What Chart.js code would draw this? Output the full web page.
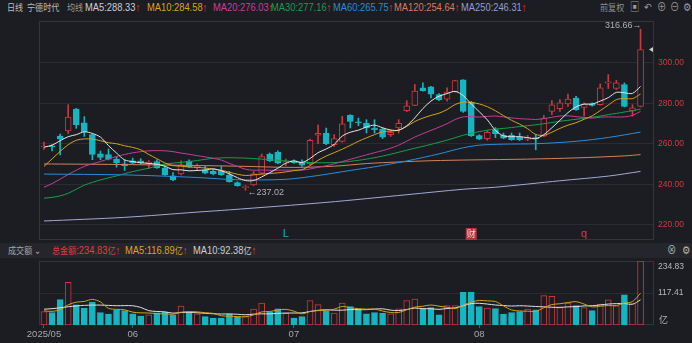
<!DOCTYPE html>
<html lang="zh">
<head>
<meta charset="UTF-8">
<title>宁德时代 日线</title>
<script src="https://cdn.jsdelivr.net/npm/chart.js"></script>
<style>
  html, body { margin: 0; padding: 0; background: #1c1d22; }
  #wrap { position: relative; width: 692px; height: 343px; overflow: hidden; background: #1c1d22;
          font-family: 'Liberation Sans', 'Noto Sans CJK SC', sans-serif; }
  .t { position: absolute; white-space: nowrap; font-size: 11px; line-height: 14px;
       transform: scaleX(0.85); transform-origin: 0 50%; }
  .cjk { font-family: 'Noto Sans CJK SC', sans-serif; font-size: 9.5px; }
  .up { color: #f0353b; font-weight: bold; }
  canvas { position: absolute; left: 0; }
  #volbar { position: absolute; left: 0; top: 243px; width: 692px; height: 15px; background: #25262b; }
</style>
</head>
<body>
<div id="wrap">
  <span class="t cjk" style="left:7px;top:0;color:#bdbdbd">日线</span>
  <span class="t cjk" style="left:27px;top:0;color:#bdbdbd">宁德时代</span>
  <span class="t cjk" style="left:67px;top:0;color:#9a9a9a">均线</span>
  <span class="t" style="left:85px;top:0;color:#c9d0da">MA5:288.33<span class="up">↑</span></span>
  <span class="t" style="left:147px;top:0;color:#d9a61c">MA10:284.58<span class="up">↑</span></span>
  <span class="t" style="left:213px;top:0;color:#c4409c">MA20:276.03<span class="up">↑</span></span>
  <span class="t" style="left:271px;top:0;color:#1b9c4b">MA30:277.16<span class="up">↑</span></span>
  <span class="t" style="left:333px;top:0;color:#2b8bd4">MA60:265.75<span class="up">↑</span></span>
  <span class="t" style="left:394px;top:0;color:#d67c5c">MA120:254.64<span class="up">↑</span></span>
  <span class="t" style="left:461px;top:0;color:#909cd6">MA250:246.31<span class="up">↑</span></span>
  <span class="t cjk" style="left:600px;top:0;color:#8e8e8e">前复权</span>
  <span class="t" style="left:630px;top:0;color:#9a9a9a">&#9635;</span>
  <span class="t" style="left:644px;top:0;color:#9a9a9a">&#8630;</span>
  <span class="t" style="left:657px;top:0;color:#9a9a9a">&#8853;</span>
  <span class="t" style="left:670px;top:0;color:#9a9a9a">&#8854;</span>
  <span class="t" style="left:683px;top:0;color:#9a9a9a">&#9881;</span>

  <div id="volbar"></div>
  <span class="t cjk" style="left:8px;top:243px;color:#a5a5a5">成交额 ⌄</span>
  <span class="t" style="left:52px;top:243px;color:#e03c40"><span class="cjk">总金额</span>:234.83<span class="cjk">亿</span><span class="up">↑</span></span>
  <span class="t" style="left:125px;top:243px;color:#d9a61c">MA5:116.89<span class="cjk">亿</span><span class="up">↑</span></span>
  <span class="t" style="left:193px;top:243px;color:#cfcfcf">MA10:92.38<span class="cjk">亿</span><span class="up">↑</span></span>
  <span class="t" style="left:667px;top:243px;color:#b5b5b5">&#8855;</span>
  <span class="t" style="left:682px;top:243px;color:#b5b5b5">&#9881;</span>

  <canvas id="priceChart" width="692" height="243" style="top:0;width:692px;height:243px"></canvas>
  <canvas id="volChart" width="692" height="85" style="top:258px;width:692px;height:85px"></canvas>
</div>
<script>
  // daily candles, 2025-05-16 .. 2025-08-29
  const opens = [258.4, 259.0, 263.8, 266.3, 277.2, 270.4, 264.5, 255.0, 254.7, 252.4,
    250.1, 251.6, 251.6, 250.3, 251.2, 248.1, 244.1, 245.1, 251.4, 248.1,
    247.1, 246.3, 246.3, 244.5, 240.8, 238.3, 239.7, 245.5, 254.9, 255.7,
    250.4, 251.6, 250.9, 250.1, 264.3, 265.1, 259.5, 261.2, 274.0, 270.8,
    270.1, 267.8, 267.3, 264.5, 267.8, 276.4, 279.0, 287.6, 288.1, 284.3,
    282.1, 285.8, 291.6, 280.5, 264.0, 262.5, 267.0, 264.1, 264.1, 263.3,
    262.3, 263.1, 263.8, 276.0, 277.4, 279.7, 282.6, 278.0, 279.8, 279.3,
    289.9, 287.3, 289.3, 276.4, 278.5]
  const highs = [260.8, 259.5, 264.8, 279.3, 277.5, 273.4, 264.8, 256.4, 257.4, 253.4,
    252.1, 252.9, 252.6, 251.7, 252.1, 248.8, 245.8, 251.6, 252.1, 250.1,
    248.8, 247.1, 248.8, 246.3, 241.2, 239.3, 246.3, 254.9, 255.4, 256.5,
    252.4, 252.1, 252.1, 262.3, 269.4, 267.8, 264.5, 273.6, 274.4, 272.7,
    271.9, 271.9, 267.8, 266.4, 271.9, 281.3, 289.3, 290.1, 288.4, 284.8,
    287.6, 291.4, 291.7, 281.0, 264.5, 266.6, 268.0, 265.3, 265.3, 265.3,
    264.1, 264.5, 274.0, 281.3, 281.8, 284.6, 283.5, 280.2, 280.2, 289.6,
    294.2, 291.4, 290.1, 279.3, 316.66]
  const lows = [257.2, 256.4, 254.5, 265.0, 267.6, 263.6, 252.1, 252.1, 252.0, 248.4,
    246.8, 250.1, 249.8, 247.8, 247.8, 244.3, 241.8, 244.6, 248.3, 246.8,
    245.1, 244.6, 244.3, 241.0, 239.0, 237.02, 239.3, 245.1, 251.2, 250.1,
    249.1, 250.3, 248.8, 249.6, 260.0, 259.5, 258.7, 260.8, 267.8, 268.9,
    265.3, 265.3, 262.5, 263.6, 265.3, 275.9, 278.8, 286.0, 282.6, 281.3,
    281.0, 285.5, 275.5, 263.6, 262.0, 261.7, 263.0, 262.5, 261.7, 261.5,
    261.5, 257.0, 263.5, 274.4, 276.0, 278.5, 276.5, 273.6, 278.6, 279.0,
    287.3, 286.8, 278.2, 273.6, 278.2]
  const closes = [258.9, 258.6, 262.3, 273.2, 269.4, 266.0, 254.7, 253.2, 252.4, 250.7,
    249.1, 250.4, 250.5, 250.9, 248.1, 244.6, 242.1, 249.6, 248.6, 249.0,
    245.5, 245.1, 244.6, 241.3, 239.3, 238.8, 245.1, 253.7, 251.6, 250.4,
    251.2, 250.7, 249.4, 261.7, 265.1, 260.0, 262.5, 269.8, 271.1, 270.3,
    267.8, 266.9, 263.3, 265.6, 270.1, 278.8, 286.0, 286.3, 284.5, 281.8,
    285.5, 291.2, 276.0, 264.0, 262.3, 265.6, 265.0, 262.8, 262.0, 262.0,
    263.1, 262.5, 272.7, 279.3, 280.2, 282.1, 276.9, 279.7, 279.0, 287.6,
    290.6, 290.1, 278.5, 277.7, 306.6]

  // moving averages
  const ma5 = [258.3, 259.3, 261.5, 263.5, 264.5, 265.9, 265.1, 263.3, 259.1, 255.4,
    252.0, 251.2, 250.6, 250.3, 249.8, 248.9, 247.2, 247.1, 246.6, 246.8,
    247.0, 247.6, 246.6, 245.1, 243.2, 241.8, 241.8, 243.6, 245.7, 247.9,
    250.4, 251.5, 250.7, 252.7, 255.6, 257.4, 259.7, 263.8, 265.7, 266.7,
    268.3, 269.2, 267.9, 266.8, 266.7, 268.9, 272.8, 277.4, 281.1, 283.5,
    284.8, 285.9, 283.8, 279.7, 275.8, 271.8, 266.6, 263.9, 263.5, 263.5,
    263.0, 262.5, 264.5, 267.9, 271.6, 275.4, 278.2, 279.6, 279.6, 281.1,
    282.8, 285.4, 285.2, 284.9, 288.33]
  const ma10 = [248.8, 252.5, 256.2, 259.5, 261.7, 262.4, 262.3, 261.5, 260.5, 260.0,
    259.0, 258.2, 257.0, 254.7, 252.6, 250.5, 249.2, 248.9, 248.5, 248.3,
    248.0, 247.4, 246.9, 245.9, 244.9, 244.3, 244.6, 245.0, 245.3, 245.6,
    246.1, 246.7, 247.2, 249.2, 251.8, 253.9, 255.6, 257.3, 259.2, 261.2,
    262.9, 264.5, 265.9, 266.3, 266.7, 268.6, 271.0, 272.7, 274.0, 275.1,
    276.9, 279.4, 280.6, 280.4, 279.7, 278.3, 276.3, 273.9, 271.6, 269.7,
    267.4, 264.6, 264.2, 265.7, 267.6, 269.2, 270.4, 272.1, 273.8, 276.4,
    279.1, 281.8, 282.4, 282.3, 284.58]
  const ma20 = [238.5, 240.3, 242.5, 244.8, 246.9, 248.8, 250.1, 251.2, 252.5, 253.7,
    254.7, 255.5, 256.1, 256.5, 256.6, 256.5, 256.1, 255.4, 254.8, 254.1,
    253.5, 252.8, 251.9, 250.3, 248.8, 247.4, 246.9, 247.0, 246.9, 246.9,
    247.0, 247.0, 247.0, 247.5, 248.4, 249.1, 250.1, 251.2, 252.3, 253.4,
    254.5, 255.6, 256.6, 257.8, 259.3, 261.3, 263.3, 265.0, 266.6, 268.2,
    269.9, 272.0, 273.3, 273.4, 273.2, 273.5, 273.7, 273.3, 272.8, 272.4,
    272.2, 272.0, 272.4, 273.1, 273.7, 273.8, 273.4, 273.0, 272.7, 273.1,
    273.3, 273.2, 273.3, 274.0, 276.03]
  const ma30 = [233.1, 233.5, 234.2, 235.5, 237.5, 239.5, 240.9, 242.1, 243.1, 244.1,
    245.2, 246.2, 247.1, 247.9, 249.0, 250.0, 250.4, 250.8, 251.2, 251.7,
    252.3, 252.8, 253.0, 253.1, 253.0, 252.9, 252.7, 252.4, 252.1, 251.8,
    251.5, 251.2, 250.9, 250.7, 250.6, 250.6, 250.7, 250.9, 251.3, 251.8,
    252.4, 253.1, 253.9, 254.8, 255.8, 256.8, 257.8, 258.7, 259.7, 260.7,
    261.8, 263.0, 264.2, 265.2, 266.0, 266.7, 267.3, 267.6, 268.0, 268.5,
    268.9, 269.4, 269.9, 270.5, 271.1, 271.6, 272.1, 272.6, 273.1, 273.7,
    274.4, 275.0, 275.7, 276.3, 277.16]
  // slow averages, sampled at a few candles
  const ma60At = [0, 10, 19, 24, 30, 34, 38, 41, 45, 49, 52, 54, 57, 61, 66, 70, 74]
  const ma60 = [245.0, 244.6, 243.3, 242.2, 242.4, 244.3, 246.8, 248.6, 251.5, 255.0, 258.0, 259.3, 259.8, 260.0, 261.2, 263.1, 265.75]
  const ma120At = [0, 8, 16, 24, 31, 36, 40, 44, 48, 53, 60, 66, 72, 74]
  const ma120 = [250.0, 249.8, 249.4, 248.9, 248.3, 248.9, 250.2, 251.0, 251.6, 252.0, 252.4, 253.0, 254.0, 254.64]
  const ma250At = [0, 10, 19, 23, 35, 45, 52, 56, 64, 70, 74]
  const ma250 = [221.8, 223.6, 226.2, 227.3, 231.0, 234.8, 237.5, 238.5, 241.7, 244.0, 246.31]

  // turnover, 亿元
  const volumes = [49, 46, 93, 157, 74, 62, 84, 46, 40, 56,
    53, 41, 33, 37, 45, 47, 37, 69, 47, 41,
    31, 25, 25, 40, 31, 31, 58, 80, 47, 59,
    43, 25, 31, 90, 75, 50, 44, 80, 68, 58,
    41, 46, 43, 41, 59, 90, 95, 59, 64, 37,
    71, 71, 120, 121, 68, 62, 60, 40, 46, 49,
    58, 56, 108, 105, 64, 80, 71, 64, 53, 77,
    92, 70, 111, 79, 234.83]
  const volMa5 = [52, 50, 56, 74, 83.8, 86.4, 94.0, 84.6, 61.2, 57.6,
    55.8, 47.2, 44.6, 44.0, 41.8, 40.6, 39.8, 47.0, 49.0, 48.2,
    45.0, 42.6, 33.8, 32.4, 30.4, 30.4, 37.0, 48.0, 49.4, 55.0,
    57.4, 50.8, 41.0, 49.6, 52.8, 54.2, 58.0, 67.8, 63.4, 60.0,
    58.2, 58.6, 51.2, 45.8, 46.0, 55.8, 65.6, 68.8, 73.4, 69.0,
    65.2, 60.4, 72.6, 84.0, 90.2, 88.4, 86.2, 70.2, 55.2, 51.4,
    50.6, 49.6, 63.2, 75.0, 78.0, 82.4, 85.6, 76.8, 66.4, 69.0,
    71.4, 71.2, 80.6, 85.8, 116.89]
  const volMa10 = [58, 60, 63, 67, 70, 72, 73, 73, 72, 70.7,
    71.1, 70.6, 64.6, 52.6, 49.7, 48.2, 43.5, 45.8, 46.5, 45.0,
    42.8, 41.2, 40.4, 40.7, 39.3, 37.7, 39.8, 40.9, 40.9, 42.7,
    43.9, 43.9, 44.5, 49.5, 53.9, 55.8, 54.4, 54.4, 56.5, 56.4,
    56.2, 58.3, 59.5, 54.6, 53.0, 57.0, 62.1, 60.0, 59.6, 57.5,
    60.5, 63.0, 70.7, 78.7, 79.6, 76.8, 73.3, 71.4, 69.6, 70.8,
    69.5, 67.9, 66.7, 65.1, 64.7, 66.5, 67.6, 70.0, 70.7, 73.5,
    76.9, 78.4, 78.7, 76.1, 92.38]

  const priceTicks = [220, 240, 260, 280, 300]
  const volTicks = [117.41, 234.83]
  const volTickLabels = ['亿', '117.41', '234.83']
  const monthIdx = [0, 11, 31, 54]
  const monthLabels = ['2025/05', '06', '07', '08']
  const eventIdx = [30, 53, 67]
  const eventText = ['L', '财', 'q']

  const bg = '#1c1d22'
  const upColor = '#cc383d'
  const downColor = '#16b5c1'
  const gridColor = '#2b2c32'
  const frameColor = '#34353b'
  const numFont = "'Liberation Sans', Arial, sans-serif"
  const xMin = -0.62, xMax = 75.67

  const isUp = opens.map((o, i) => closes[i] >= o)
  const pts = arr => arr.map((v, i) => ({ x: i, y: v }))
  const sparse = (xs, ys) => xs.map((x, i) => ({ x: x, y: ys[i] }))
  const lineDs = (data, color) => ({
    type: 'line', data, borderColor: color, borderWidth: 1,
    pointRadius: 0, tension: 0.3, order: 0
  })
  // keep the plot box exactly where the padding puts it
  const noPad = s => { s.paddingTop = 0; s.paddingBottom = 0; s.paddingLeft = 0; s.paddingRight = 0 }

  const framePlugin = {
    id: 'frame',
    beforeDatasetsDraw(chart) {
      const { ctx, chartArea: a } = chart
      ctx.save()
      ctx.strokeStyle = frameColor
      ctx.lineWidth = 1
      ctx.strokeRect(a.left + 0.5, a.top + 0.5, a.right - a.left - 1, a.bottom - a.top - 1)
      ctx.restore()
    }
  }

  const markPlugin = {
    id: 'marks',
    afterDatasetsDraw(chart) {
      const { ctx, chartArea: a } = chart
      const x = chart.scales.x, y = chart.scales.y
      ctx.save()
      ctx.font = '9px ' + numFont
      ctx.fillStyle = '#b0b0b0'
      ctx.textBaseline = 'middle'
      const lo = Math.min(...lows), loI = lows.indexOf(lo)
      ctx.textAlign = 'left'
      ctx.fillText('←' + lo.toFixed(2), x.getPixelForValue(loI) + 2, y.getPixelForValue(lo) + 2)
      const hi = Math.max(...highs), hiI = highs.indexOf(hi)
      ctx.textAlign = 'right'
      ctx.fillText(hi.toFixed(2) + '→', x.getPixelForValue(hiI) + 1, y.getPixelForValue(hi) - 4)
      // last price pointer on the right edge
      const py = y.getPixelForValue(closes[closes.length - 1])
      ctx.fillStyle = '#cfcfcf'
      ctx.beginPath()
      ctx.moveTo(a.right - 5, py)
      ctx.lineTo(a.right - 1, py - 2.5)
      ctx.lineTo(a.right - 1, py + 2.5)
      ctx.fill()
      // event flags along the bottom
      ctx.textAlign = 'center'
      eventIdx.forEach((k, i) => {
        const ex = x.getPixelForValue(k), ey = a.bottom - 6
        if (eventText[i] === '财') {
          ctx.fillStyle = '#b3363b'
          ctx.fillRect(ex - 5.5, ey - 6, 11, 12)
          ctx.fillStyle = '#f2d6d6'
          ctx.font = "9px 'Noto Sans CJK SC', sans-serif"
        } else {
          ctx.fillStyle = eventText[i] === 'L' ? downColor : '#e23a3f'
          ctx.font = '11px ' + numFont
        }
        ctx.fillText(eventText[i], ex, ey)
      })
      ctx.restore()
    }
  }

  const volLabelPlugin = {
    id: 'volLabels',
    afterDraw(chart) {
      const { ctx, chartArea: a } = chart
      const y = chart.scales.y
      ctx.save()
      ctx.fillStyle = '#b8b8b8'
      ctx.textAlign = 'left'
      ctx.textBaseline = 'middle'
      ctx.font = "9px 'Noto Sans CJK SC', sans-serif"
      ctx.fillText(volTickLabels[0], a.right + 5, a.bottom - 5)
      ctx.font = '8.5px ' + numFont
      ctx.fillText(volTickLabels[1], a.right + 4, y.getPixelForValue(volTicks[0]))
      ctx.fillText(volTickLabels[2], a.right + 4, y.getPixelForValue(volTicks[1]) + 6)
      ctx.restore()
    }
  }

  Chart.defaults.font.family = numFont
  Chart.defaults.font.size = 10

  new Chart(document.getElementById('priceChart'), {
    type: 'bar',
    data: {
      datasets: [
        lineDs(pts(ma5), '#e6e6e6'),
        lineDs(pts(ma10), '#d6a21c'),
        lineDs(pts(ma20), '#c23e9c'),
        lineDs(pts(ma30), '#17a04a'),
        lineDs(sparse(ma60At, ma60), '#2a8ddf'),
        lineDs(sparse(ma120At, ma120), '#d6805d'),
        lineDs(sparse(ma250At, ma250), '#a2a9d8'),
        {
          data: lows.map((l, i) => ({ x: i, y: [l, highs[i]] })),
          backgroundColor: isUp.map(u => u ? upColor : downColor),
          barThickness: 1, grouped: false, order: 2
        },
        {
          data: opens.map((o, i) => ({ x: i, y: [o, closes[i]] })),
          backgroundColor: isUp.map(u => u ? bg : downColor),
          borderColor: isUp.map(u => u ? upColor : downColor),
          borderWidth: 1, borderSkipped: false,
          barThickness: 6, grouped: false, order: 1
        }
      ]
    },
    options: {
      responsive: false,
      animation: false,
      devicePixelRatio: 1,
      layout: { padding: { left: 39, top: 21, right: 0, bottom: 3 } },
      plugins: { legend: { display: false }, tooltip: { enabled: false } },
      scales: {
        x: { type: 'linear', min: xMin, max: xMax, offset: false, display: false },
        y: {
          position: 'right',
          min: 212.4,
          max: 320.7,
          afterFit: s => { s.width = 38; noPad(s) },
          afterBuildTicks: s => { s.ticks = priceTicks.map(v => ({ value: v })) },
          ticks: { color: '#d13a3f', padding: 4, font: { size: 8.5 }, callback: v => v.toFixed(2) },
          grid: { color: gridColor, drawTicks: false },
          border: { display: false }
        }
      }
    },
    plugins: [framePlugin, markPlugin]
  })

  new Chart(document.getElementById('volChart'), {
    type: 'bar',
    data: {
      datasets: [
        lineDs(pts(volMa5), '#d6a21c'),
        lineDs(pts(volMa10), '#e0e0e0'),
        {
          data: volumes.map((v, i) => ({ x: i, y: v })),
          backgroundColor: isUp.map(u => u ? bg : downColor),
          borderColor: isUp.map(u => u ? upColor : downColor),
          borderWidth: 1, borderSkipped: false,
          barThickness: 6, order: 1
        }
      ]
    },
    options: {
      responsive: false,
      animation: false,
      devicePixelRatio: 1,
      layout: { padding: { left: 39, top: 3, right: 0, bottom: 0 } },
      plugins: { legend: { display: false }, tooltip: { enabled: false } },
      scales: {
        x: {
          type: 'linear', min: xMin, max: xMax, offset: false,
          afterFit: s => { s.height = 18; noPad(s) },
          afterBuildTicks: s => { s.ticks = monthIdx.map(v => ({ value: v })) },
          ticks: {
            color: '#a8a8a8', padding: 1, maxRotation: 0, autoSkip: false,
            font: { size: 9.5 },
            callback: v => monthLabels[monthIdx.indexOf(v)]
          },
          grid: { offset: false, drawOnChartArea: false, drawTicks: true, tickLength: 3, color: '#5a5b61' },
          border: { display: false }
        },
        y: {
          position: 'right',
          min: 0,
          max: 234.83,
          afterFit: s => { s.width = 38; noPad(s) },
          afterBuildTicks: s => { s.ticks = volTicks.map(v => ({ value: v })) },
          ticks: { display: false },
          grid: { color: gridColor, drawTicks: false },
          border: { display: false }
        }
      }
    },
    plugins: [framePlugin, volLabelPlugin]
  })
</script>
</body>
</html>
